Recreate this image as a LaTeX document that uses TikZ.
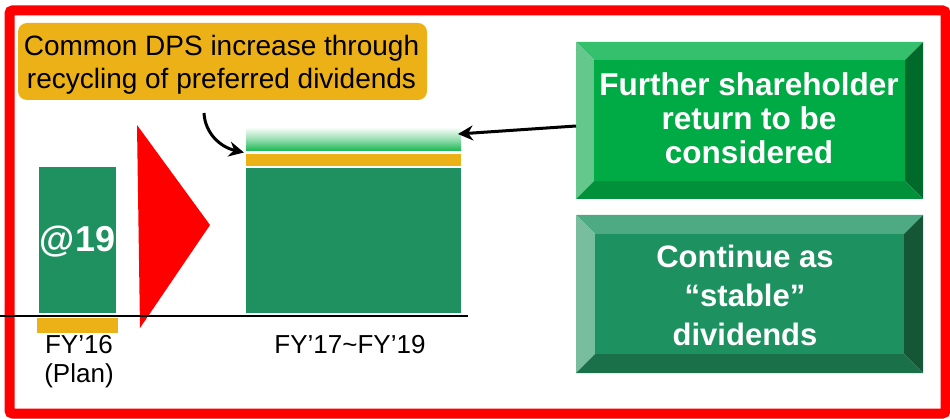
\documentclass[tikz,border=0pt]{standalone}
\usepackage{fontspec}
\setmainfont{Liberation Sans}
\usetikzlibrary{arrows.meta,calc}
\definecolor{gold}{RGB}{237,177,24}
\definecolor{bargreen}{RGB}{31,145,96}
\definecolor{gradgreen}{RGB}{30,185,85}
\definecolor{aface}{RGB}{0,170,68}
\definecolor{atop}{RGB}{52,192,108}
\definecolor{aleft}{RGB}{100,200,140}
\definecolor{aright}{RGB}{0,106,42}
\definecolor{abot}{RGB}{0,145,58}
\definecolor{bface}{RGB}{30,145,96}
\definecolor{btop}{RGB}{78,170,130}
\definecolor{bleft}{RGB}{120,189,157}
\definecolor{bright}{RGB}{20,86,54}
\definecolor{bbot}{RGB}{26,112,73}
\begin{document}
\begin{tikzpicture}[x=1pt,y=-1pt,
  every node/.style={inner sep=0pt,outer sep=0pt},
  barfill/.style={fill=bargreen,draw=none},
  goldfill/.style={fill=gold,draw=none},
  boxtext/.style={align=center,text=white,font=\bfseries\fontsize{31.5}{34}\selectfont},
  axislabel/.style={align=center,font=\fontsize{26}{29}\selectfont},
  pointer/.style={line width=3pt,-{Stealth[length=15pt,width=15pt]}}
]
\useasboundingbox (0,0) rectangle (950,419);

% red frame
\draw[red,line width=10pt,rounded corners=3pt] (9.5,10.5) rectangle (945.5,413.5);

% callout
\node[goldfill,rounded corners=9pt,minimum width=409pt,minimum height=77pt] (callout) at (222.5,61.5) {};
\node[align=center,font=\fontsize{28}{33}\selectfont] (calltext) at (221.5,64.3)
  {Common DPS increase through\\recycling of preferred dividends};

% FY16 bar
\node[barfill,minimum width=77pt,minimum height=146pt] (fy16) at (77.5,240) {};
\node[text=white,font=\bfseries\fontsize{36}{40}\selectfont] (at19) at (77.5,242) {@19};
\node[goldfill,minimum width=81pt,minimum height=15pt] (fy16gold) at (77.5,325.5) {};

% red triangle
\fill[red] (137,125) -- (210,225) -- (140,328) -- cycle;

% FY17-19 stack
\node[barfill,minimum width=215pt,minimum height=145pt] (big) at (353.5,240.5) {};
\node[goldfill,minimum width=215pt,minimum height=12pt] (bigGold) at (353.5,160) {};
\shade[top color=white,bottom color=gradgreen,middle color=gradgreen!45] (246,127) rectangle (461,150.5);
\coordinate (gradEast) at (458,134);

% axis
\draw[line width=2pt] (0,316.5) -- (468,316.5);

% labels
\node[axislabel,anchor=north] (fy16lab) at (79,335.5) {FY’16\\(Plan)};
\node[axislabel,anchor=base] (fy17lab) at (350,354) {FY’17\textasciitilde FY’19};

% box 1 (bevel)
\node[minimum width=347pt,minimum height=157pt] (box1) at (749.5,120.5) {};
\fill[atop] (576,42) -- (923,42) -- (905,60) -- (594,60) -- cycle;
\fill[aleft] (576,42) -- (594,60) -- (594,181) -- (576,199) -- cycle;
\fill[aright] (923,42) -- (923,199) -- (905,181) -- (905,60) -- cycle;
\fill[abot] (576,199) -- (923,199) -- (905,181) -- (594,181) -- cycle;
\fill[aface] (594,60) rectangle (905,181);
\node[boxtext] (box1text) at (749,118) {Further shareholder\\return to be\\considered};

% box 2 (bevel)
\node[minimum width=347pt,minimum height=158pt] (box2) at (749.5,294) {};
\fill[btop] (576,215) -- (923,215) -- (904,234) -- (595,234) -- cycle;
\fill[bleft] (576,215) -- (595,234) -- (595,354) -- (576,373) -- cycle;
\fill[bright] (923,215) -- (923,373) -- (904,354) -- (904,234) -- cycle;
\fill[bbot] (576,373) -- (923,373) -- (904,354) -- (595,354) -- cycle;
\fill[bface] (595,234) rectangle (904,354);
\node[boxtext,font=\bfseries\fontsize{31}{39}\selectfont] (box2text) at (745,295) {Continue as\\“stable”\\dividends};

% arrows
\coordinate (curveStart) at (204,113);
\coordinate (curveTip) at (244,152.5);
\draw[pointer] (curveStart) .. controls (205,133) and (220,147) .. (curveTip);
\draw[pointer] ($(box1.west)+(0,5.5)$) -- (gradEast);
\end{tikzpicture}
\end{document}
